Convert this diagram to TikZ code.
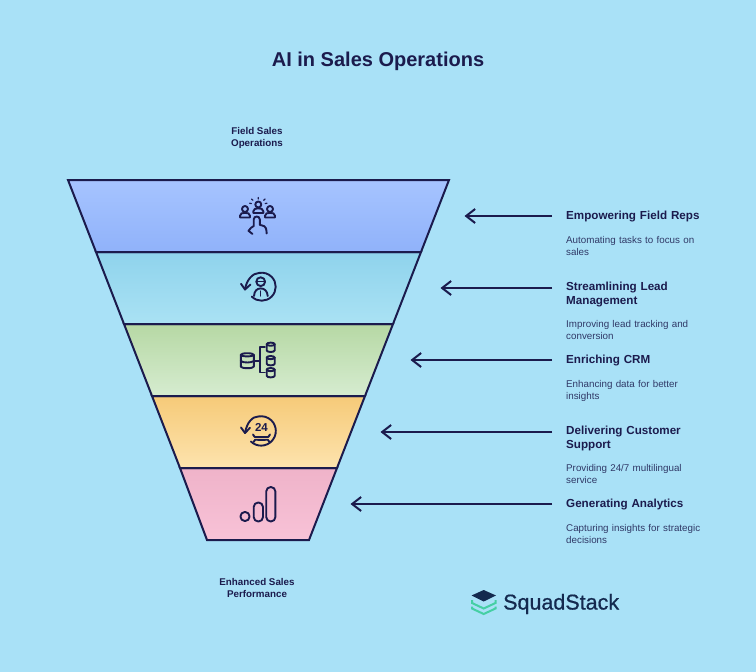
\documentclass[tikz,border=0pt]{standalone}
\usepackage{fontspec}
\setmainfont{Liberation Sans}
\newfontfamily\logofont[FakeBold=0.7]{Liberation Sans}
\usetikzlibrary{arrows.meta}
\definecolor{bgc}{HTML}{A9E1F7}
\definecolor{ink}{HTML}{1B1B4D}
\definecolor{logoink}{HTML}{14294F}
\definecolor{logogreen}{HTML}{45CFA4}
\definecolor{aT}{HTML}{A6C4FF}\definecolor{aB}{HTML}{90B2FA}
\definecolor{bT}{HTML}{8FD3EC}\definecolor{bB}{HTML}{AAE2F4}
\definecolor{cT}{HTML}{B6D8A4}\definecolor{cB}{HTML}{D6ECD0}
\definecolor{dT}{HTML}{F6CA78}\definecolor{dB}{HTML}{FDE3AE}
\definecolor{eT}{HTML}{EFB3C9}\definecolor{eB}{HTML}{F8C2D7}
\tikzset{
  x=1pt,y=-1pt,
  band/.style={draw=ink,line width=2pt,line join=miter},
  pointer/.style={draw=ink,line width=2pt,-{Straight Barb[length=9pt,width=14pt,line width=2pt]}},
  heading/.style={anchor=north west,inner sep=0pt,align=left,text width=150pt,text=ink,font=\fontsize{11.65}{14}\selectfont\bfseries},
  desc/.style={anchor=north west,inner sep=0pt,align=left,text width=146pt,text=ink!85!bgc,font=\fontsize{9.8}{12}\selectfont},
  endlabel/.style={inner sep=0pt,align=center,text=ink,font=\fontsize{9.8}{12}\selectfont\bfseries},
  icon/.style={draw=ink,line width=1.9pt,line cap=round,line join=round,fill=none},
}
\newcommand{\cyl}[4]{% cx, cy, halfwidth, halfheight
  \draw[icon] (#1-#3,#2-#4+1.6) -- (#1-#3,#2+#4-1.6) arc[x radius=#3pt,y radius=1.6pt,start angle=180,end angle=360] -- (#1+#3,#2-#4+1.6);
  \draw[icon] (#1,#2-#4+1.6) ellipse[x radius=#3pt,y radius=1.6pt];
}
\newcommand{\person}[2]{% cx, head cy
  \draw[icon] (#1,#2) circle[radius=3pt];
  \draw[icon] (#1-5,#2+8.5) -- (#1-5,#2+6.8) .. controls (#1-5,#2+4.4) and (#1-2.5,#2+3.8) .. (#1,#2+3.8) .. controls (#1+2.5,#2+3.8) and (#1+5,#2+4.4) .. (#1+5,#2+6.8) -- (#1+5,#2+8.5) -- cycle;
}
\begin{document}
\begin{tikzpicture}
\useasboundingbox (0,0) rectangle (756,672);
\fill[bgc] (0,0) rectangle (756,672);

\node[text=ink,font=\fontsize{20}{24}\selectfont\bfseries] (title) at (378,61.5) {AI in Sales Operations};
\node[endlabel] (toplabel) at (257,137.5) {Field Sales\\Operations};
\node[endlabel] (bottomlabel) at (257,587.5) {Enhanced Sales\\Performance};

% funnel
\shade[top color=aT,bottom color=aB] (68,180) -- (449,180) -- (421,252) -- (96,252) -- cycle;
\shade[top color=bT,bottom color=bB] (96,252) -- (421,252) -- (393,324) -- (124,324) -- cycle;
\shade[top color=cT,bottom color=cB] (124,324) -- (393,324) -- (365,396) -- (152,396) -- cycle;
\shade[top color=dT,bottom color=dB] (152,396) -- (365,396) -- (337,468) -- (180,468) -- cycle;
\shade[top color=eT,bottom color=eB] (180,468) -- (337,468) -- (309,540) -- (207,540) -- cycle;
\draw[band] (68,180) -- (449,180) -- (421,252) -- (96,252) -- cycle;
\draw[band] (96,252) -- (421,252) -- (393,324) -- (124,324) -- cycle;
\draw[band] (124,324) -- (393,324) -- (365,396) -- (152,396) -- cycle;
\draw[band] (152,396) -- (365,396) -- (337,468) -- (180,468) -- cycle;
\draw[band] (180,468) -- (337,468) -- (309,540) -- (207,540) -- cycle;

% icon 1: people and pointing hand
\person{258.3}{204.5}
\person{245}{209}
\person{270}{209}
\draw[icon,line width=1.2pt] (258.3,197.5) -- (258.3,199) (251.5,199) -- (253,200.3) (265.1,199) -- (263.6,200.3) (249.6,203.2) -- (251.4,203.6) (267,203.2) -- (265.2,203.6);
\draw[icon] (252.5,234) -- (248.5,230.8) .. controls (250,228.3) and (252,227) .. (253.7,226) -- (253.7,219.5) .. controls (253.7,215.5) and (259.8,215.5) .. (259.8,219.5) -- (259.8,224.8) -- (264.3,226.2) .. controls (266,226.8) and (266.3,229) .. (266.7,233.5);

% icon 2: person in circular arrow
\draw[icon] (251.8,296.6) arc[radius=14pt,start angle=225,end angle=460] .. controls (253,273) and (246.5,279.5) .. (245,289.5);
\draw[icon] (241,283.8) -- (245,289.5) -- (250.5,284.5);
\draw[icon] (260.7,281.7) circle[radius=4.4pt];
\draw[icon,line width=1.3pt] (256.5,281.7) -- (265,281.7);
\draw[icon] (254,296) .. controls (254.3,291) and (257,288.4) .. (260.7,288.4) .. controls (264.5,288.4) and (267.4,291) .. (267.7,296);
\draw[icon,line width=1.4pt] (260.7,291) -- (260.7,296);

% icon 3: database hierarchy
\cyl{247.3}{360.7}{6.5}{7.5}
\draw[icon] (240.8,361) .. controls (243,363) and (251.6,363) .. (253.8,361);
\draw[icon] (254.5,360.7) -- (260,360.7);
\draw[icon] (265,347) -- (260,347) -- (260,372.5) -- (265,372.5);
\cyl{270.7}{347.3}{4}{4.7}
\cyl{270.7}{360.7}{4}{4.7}
\cyl{270.7}{372.7}{4}{4.7}

% icon 4: 24h service
\draw[icon] (250.9,441.5) arc[radius=14.7pt,start angle=226,end angle=460] .. controls (252.5,416.5) and (247,422) .. (245,433);
\draw[icon] (241,427.5) -- (245,433) -- (250,427.8);
\node[text=ink,inner sep=0pt,font=\fontsize{11.5}{12}\selectfont\bfseries] (hours) at (261.5,427.5) {24};
\draw[icon] (253,434.5) .. controls (253.5,437) and (255.5,437.8) .. (258,437) -- (265,437) .. controls (267.5,437.8) and (269.5,437) .. (270,434.5);
\draw[icon] (253.5,442) .. controls (254,439.8) and (256,439) .. (258,439.8) -- (265,439.8) .. controls (267,439) and (269,439.8) .. (269.5,442);

% icon 5: rising bars
\draw[icon] (245,516.5) circle[radius=4.6pt];
\draw[icon,rounded corners=4.5pt] (253.7,502.5) rectangle (263,521.5);
\draw[icon,rounded corners=4.5pt] (266.2,487) rectangle (275.4,521.5);

% connectors
\coordinate (s1) at (552,216); \coordinate (t1) at (464.5,216);
\coordinate (s2) at (552,288); \coordinate (t2) at (440.5,288);
\coordinate (s3) at (552,360); \coordinate (t3) at (410.5,360);
\coordinate (s4) at (552,432); \coordinate (t4) at (380.5,432);
\coordinate (s5) at (552,504); \coordinate (t5) at (350.5,504);
\draw[pointer] (s1) -- (t1);
\draw[pointer] (s2) -- (t2);
\draw[pointer] (s3) -- (t3);
\draw[pointer] (s4) -- (t4);
\draw[pointer] (s5) -- (t5);

% labels
\node[heading] (h1) at (566,211) {Empowering Field Reps};
\node[desc] (d1) at (566,236.5) {Automating tasks to focus on\\sales};
\node[heading] (h2) at (566,282) {Streamlining Lead\\Management};
\node[desc] (d2) at (566,320.5) {Improving lead tracking and\\conversion};
\node[heading] (h3) at (566,355) {Enriching CRM};
\node[desc] (d3) at (566,380.5) {Enhancing data for better\\insights};
\node[heading] (h4) at (566,426) {Delivering Customer\\Support};
\node[desc] (d4) at (566,464.5) {Providing 24/7 multilingual\\service};
\node[heading] (h5) at (566,499) {Generating Analytics};
\node[desc] (d5) at (566,524.5) {Capturing insights for strategic\\decisions};

% logo
\fill[logoink] (483.7,590) -- (496,595.5) -- (483.7,601.5) -- (471.5,595.5) -- cycle;
\draw[logogreen,line width=2pt,line join=miter] (472,600) -- (472,603) -- (483.7,608.5) -- (495.5,603) -- (495.5,600);
\draw[logogreen,line width=2pt,line join=miter] (472,606.5) -- (472,608.5) -- (483.7,614) -- (495.5,608.5) -- (495.5,606.5);
\node[anchor=west,inner sep=0pt,text=logoink,font=\logofont\fontsize{21.5}{24}\selectfont] (brand) at (503,604) {SquadStack};
\end{tikzpicture}
\end{document}
